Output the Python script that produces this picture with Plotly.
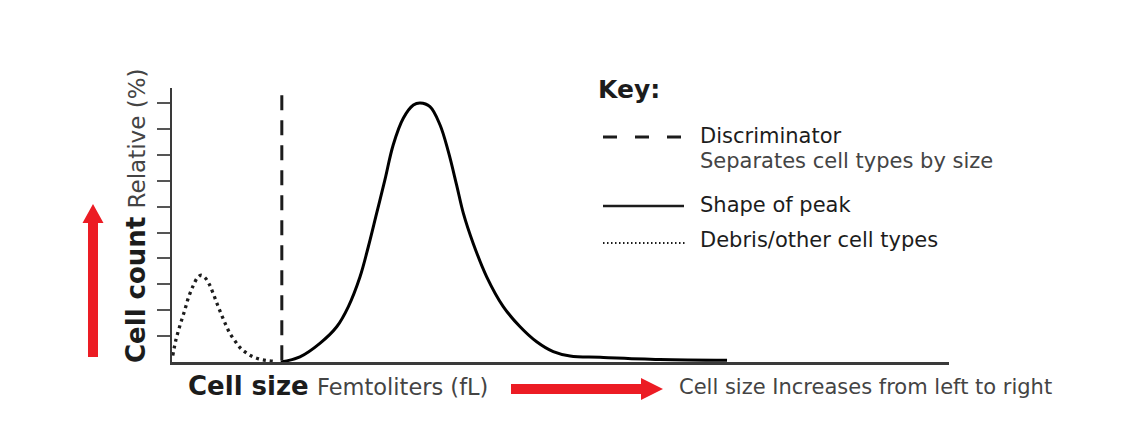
import plotly.graph_objects as go

# ---- data ----
peak_x = [42.0, 49.4, 57.1, 63.6, 68.1, 72.6, 75.8, 79.0, 82.2, 85.4, 89.3, 93.2, 95.8,
          99.6, 103.5, 106.7, 109.9, 112.5, 116.3, 121.5, 127.9, 134.4, 140.8, 147.2,
          153.7, 165.3, 188.4, 214.3]
peak_y = [0.0, 0.20, 0.72, 1.36, 2.14, 3.29, 4.45, 5.74, 7.03, 8.38, 9.41, 9.92, 10.0,
          9.86, 9.15, 8.12, 6.83, 5.74, 4.58, 3.29, 2.14, 1.36, 0.78, 0.40,
          0.23, 0.18, 0.10, 0.07]

debris_x = [0.3, 1.5, 3.1, 4.9, 6.4, 8.2, 9.8, 11.2, 12.8, 14.4, 16.0, 17.6, 19.2,
            20.8, 22.4, 24.4, 26.3, 28.6, 30.9, 33.5, 36.3, 38.9]
debris_y = [0.25, 0.85, 1.42, 1.99, 2.50, 2.95, 3.25, 3.35, 3.25, 3.00, 2.62, 2.20,
            1.80, 1.43, 1.10, 0.80, 0.55, 0.36, 0.22, 0.12, 0.06, 0.03]

disc_x = [42.4, 42.4]
disc_y = [10.3, 0.0]

y_ticks = [1, 2, 3, 4, 5, 6, 7, 8, 9, 10]

key_title = "Key:"
key_items = ["Discriminator", "Separates cell types by size", "Shape of peak",
             "Debris/other cell types"]

FONT = "DejaVu Sans"
RED = "#ec1c24"
INK = "#1c1c1c"
LIGHT = "#444444"

W, H = 1140, 421
L, R, T, B = 172, 191, 88, 59
PW, PH = W - L - R, H - T - B


def px(x):
    return (x - L) / PW


def py(y):
    return (H - B - y) / PH


fig = go.Figure()

fig.add_trace(go.Scatter(x=debris_x, y=debris_y, mode="lines",
                         line=dict(color=INK, width=3.3, dash="3px,4px", shape="spline",
                                   smoothing=1.0),
                         hoverinfo="skip", showlegend=False))
fig.add_trace(go.Scatter(x=disc_x, y=disc_y, mode="lines",
                         line=dict(color=INK, width=3, dash="15px,10px"),
                         hoverinfo="skip", showlegend=False))
fig.add_trace(go.Scatter(x=peak_x, y=peak_y, mode="lines",
                         line=dict(color="#000000", width=3, shape="spline", smoothing=1.0),
                         hoverinfo="skip", showlegend=False))

shapes = []
# key lines
shapes.append(dict(type="line", xref="paper", yref="paper", x0=px(603), x1=px(684),
                   y0=py(137), y1=py(137), line=dict(color=INK, width=3, dash="14px,18px")))
shapes.append(dict(type="line", xref="paper", yref="paper", x0=px(603), x1=px(684),
                   y0=py(206), y1=py(206), line=dict(color=INK, width=2.5)))
shapes.append(dict(type="line", xref="paper", yref="paper", x0=px(603), x1=px(686),
                   y0=py(243), y1=py(243), line=dict(color=INK, width=2, dash="1.5px,2.5px")))

# vertical red arrow
va = [(88, 357), (98, 357), (98, 223), (103.5, 223), (93, 204), (82.5, 223), (88, 223)]
# horizontal red arrow
ha = [(511, 384), (641, 384), (641, 378), (663, 389), (641, 400), (641, 394), (511, 394)]
for poly in (va, ha):
    path = "M " + " L ".join(f"{px(a):.5f},{py(b):.5f}" for a, b in poly) + " Z"
    shapes.append(dict(type="path", xref="paper", yref="paper", path=path,
                       fillcolor=RED, line=dict(width=0)))

annotations = [
    dict(text=f"<b>{key_title}</b>", x=px(596), y=py(89), xanchor="left", yanchor="middle",
         font=dict(size=25, color=INK, family=FONT)),
    dict(text=key_items[0], x=px(698), y=py(136), xanchor="left", yanchor="middle",
         font=dict(size=21, color=INK, family=FONT)),
    dict(text=key_items[1], x=px(698), y=py(161), xanchor="left", yanchor="middle",
         font=dict(size=21, color=LIGHT, family=FONT)),
    dict(text=key_items[2], x=px(698), y=py(205), xanchor="left", yanchor="middle",
         font=dict(size=21, color=INK, family=FONT)),
    dict(text=key_items[3], x=px(698), y=py(240), xanchor="left", yanchor="middle",
         font=dict(size=21, color=INK, family=FONT)),
    dict(text="<b>Cell count</b> <span style='font-size:23px;color:#444444'>Relative (%)</span>",
         x=px(136), y=py(216), xanchor="center", yanchor="middle", textangle=-90,
         font=dict(size=26, color=INK, family=FONT)),
    dict(text="<b>Cell size</b> <span style='font-size:22.5px;color:#444444'>Femtoliters (fL)</span>",
         x=px(186), y=py(386), xanchor="left", yanchor="middle",
         font=dict(size=26, color=INK, family=FONT)),
    dict(text="Cell size Increases from left to right", x=px(677), y=py(387),
         xanchor="left", yanchor="middle", font=dict(size=21, color=LIGHT, family=FONT)),
]
for a in annotations:
    a.update(xref="paper", yref="paper", showarrow=False)

fig.update_layout(
    width=W, height=H,
    margin=dict(l=L, r=R, t=T, b=B, pad=0),
    paper_bgcolor="white", plot_bgcolor="white",
    shapes=shapes, annotations=annotations,
    xaxis=dict(range=[0, 300], showgrid=False, zeroline=False, showline=True,
               linecolor="#3a3a3a", linewidth=2.5, ticks="", showticklabels=False,
               fixedrange=True),
    yaxis=dict(range=[0, 10.58], showgrid=False, zeroline=False, showline=True,
               linecolor="#3a3a3a", linewidth=2, ticks="outside", tickvals=y_ticks,
               ticklen=13, tickwidth=1.5, tickcolor="#555555", showticklabels=False,
               fixedrange=True),
    showlegend=False,
)

fig.write_html("out.html", config={"displayModeBar": False},
               post_script="document.body.style.margin='0';")
